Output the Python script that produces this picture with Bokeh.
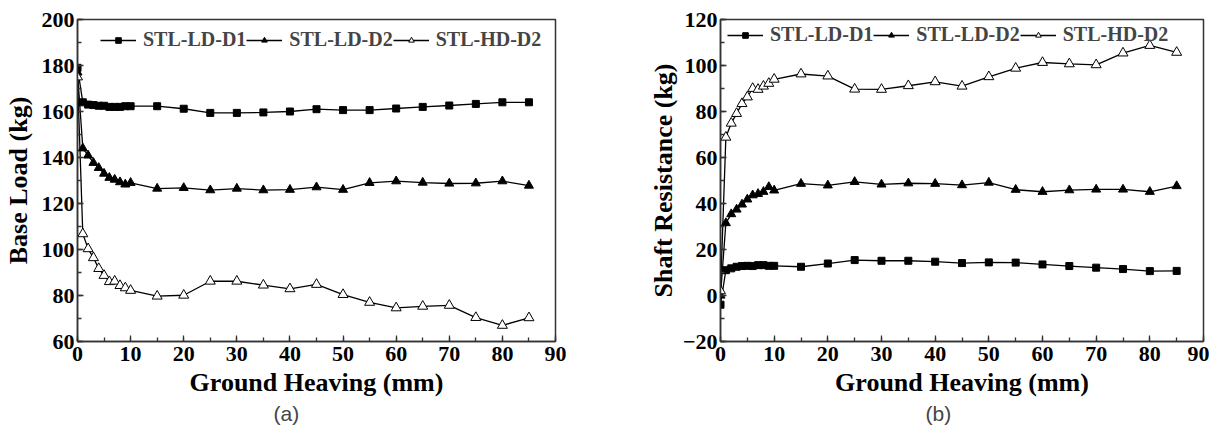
from bokeh.plotting import figure
from bokeh.models import Range1d, Legend, LegendItem, Title, SingleIntervalTicker
from bokeh.layouts import row
from bokeh.embed import file_html
from bokeh.resources import INLINE

heave = [0, 1, 2, 3, 4, 5, 6, 7, 8, 9, 10, 15, 20, 25, 30, 35, 40, 45, 50, 55, 60, 65, 70, 75, 80, 85]

base_ld_d1 = [179, 164, 163, 162.8, 162.5, 162.5, 162, 162, 162, 162.3, 162.3, 162.3, 161.2, 159.4, 159.4,
              159.6, 160, 161, 160.6, 160.6, 161.3, 162, 162.6, 163.3, 164, 164]
base_ld_d2 = [177, 144, 140.9, 137.7, 135.5, 133, 131.2, 130.4, 129.3, 128.3, 129, 126.5, 126.8, 125.8, 126.5,
              125.8, 126, 127.1, 126, 129, 129.7, 129.1, 128.7, 128.8, 129.7, 127.8]
base_hd_d2 = [175, 106.8, 100.3, 96.4, 91.7, 88.7, 86, 86.2, 84.3, 83.3, 82.2, 79.7, 80.1, 86.2, 86.2,
              84.5, 82.9, 84.8, 80.4, 77, 74.6, 75.3, 75.7, 70.4, 67, 70.3]

shaft_ld_d1 = [-4, 11, 11.8, 12.5, 12.8, 12.9, 12.8, 13.2, 13.2, 12.9, 12.9, 12.5, 13.9, 15.4, 15.1,
               15.1, 14.7, 14.1, 14.4, 14.3, 13.5, 12.8, 12.1, 11.5, 10.6, 10.7]
shaft_ld_d2 = [0, 31.5, 35.4, 37.4, 39.6, 41.8, 43.6, 44.2, 45.1, 47.2, 45.7, 48.6, 47.9, 49.4, 48.3,
               48.8, 48.6, 48, 49.1, 46, 45.1, 45.8, 46.1, 46.1, 45.1, 47.6]
shaft_hd_d2 = [2, 68.8, 74.9, 79.1, 83.4, 86.3, 90, 89.6, 91, 92.2, 94, 96.3, 95.4, 89.7, 89.6,
               91.2, 92.9, 91, 95.1, 98.8, 101.3, 100.7, 100.3, 105.4, 108.7, 105.7]

series_names = ["STL-LD-D1", "STL-LD-D2", "STL-HD-D2"]
x_label = "Ground Heaving (mm)"

SERIF = "Liberation Serif"


def make_panel(ys, y_range, y_label, tag, width, height, borders, legend_loc, tag_offset, ylab_standoff):
    bl, br, bt, bb = borders
    p = figure(width=width, height=height, output_backend="svg", toolbar_location=None,
               x_range=Range1d(0, 90), y_range=Range1d(*y_range),
               min_border_left=bl, min_border_right=br, min_border_top=bt, min_border_bottom=bb)
    p.xgrid.visible = False
    p.ygrid.visible = False
    p.outline_line_color = "#333333"
    p.outline_line_width = 1.5

    p.xaxis.ticker = SingleIntervalTicker(interval=10, num_minor_ticks=2)
    p.yaxis.ticker = SingleIntervalTicker(interval=20, num_minor_ticks=2)
    for ax in (p.xaxis[0], p.yaxis[0]):
        ax.axis_line_color = "#333333"
        ax.axis_line_width = 1.5
        ax.major_tick_line_color = "#333333"
        ax.minor_tick_line_color = "#333333"
        ax.major_tick_line_width = 1.3
        ax.minor_tick_line_width = 1.3
        ax.major_tick_in = 6
        ax.major_tick_out = 0
        ax.minor_tick_in = 4
        ax.minor_tick_out = 0
        ax.major_label_text_font = SERIF
        ax.major_label_text_font_style = "bold"
        ax.major_label_text_font_size = "22px"
        ax.major_label_text_color = "black"
        ax.major_label_standoff = 3
        ax.axis_label_text_font = SERIF
        ax.axis_label_text_font_style = "bold"
        ax.axis_label_text_font_size = "26px"
        ax.axis_label_text_color = "black"
    p.xaxis.axis_label_standoff = 4
    p.yaxis.axis_label_standoff = ylab_standoff
    p.xaxis.major_label_standoff = 5
    p.xaxis.axis_label = x_label
    p.yaxis.axis_label = y_label

    markers = ["square", "triangle", "triangle"]
    fills = ["black", "black", "white"]
    sizes = [7, 9, 10]
    items = []
    for name, y, m, f, s in zip(series_names, ys, markers, fills, sizes):
        lr = p.line(heave, y, line_color="black", line_width=1.3)
        sr = p.scatter(heave, y, marker=m, size=s, fill_color=f, line_color="black", line_width=1)
        items.append(LegendItem(label=name, renderers=[lr, sr]))

    leg = Legend(items=items, orientation="horizontal", location=legend_loc,
                 label_text_font=SERIF, label_text_font_style="bold", label_text_font_size="20px",
                 glyph_width=36, glyph_height=14, label_standoff=7, spacing=0, padding=0, margin=0,
                 border_line_color=None, background_fill_alpha=0)
    p.add_layout(leg, "center")

    t = Title(text=tag, align="left", offset=tag_offset, text_font="Liberation Sans",
              text_font_style="normal", text_font_size="21px", standoff=0)
    p.add_layout(t, "below")
    return p


pa = make_panel([base_ld_d1, base_ld_d2, base_hd_d2], (60, 200), "Base Load (kg)", "(a)",
                600, 425, (74, 45, 19, 84), (23, 290), 196, 6)
pb = make_panel([shaft_ld_d1, shaft_ld_d2, shaft_hd_d2], (-20, 120), "Shaft Resistance (kg)", "(b)",
                609, 425, (120, 6, 19, 84), (7, 295), 205, 2)

layout = row(pa, pb)
open("out.html", "w").write(file_html(layout, INLINE))
